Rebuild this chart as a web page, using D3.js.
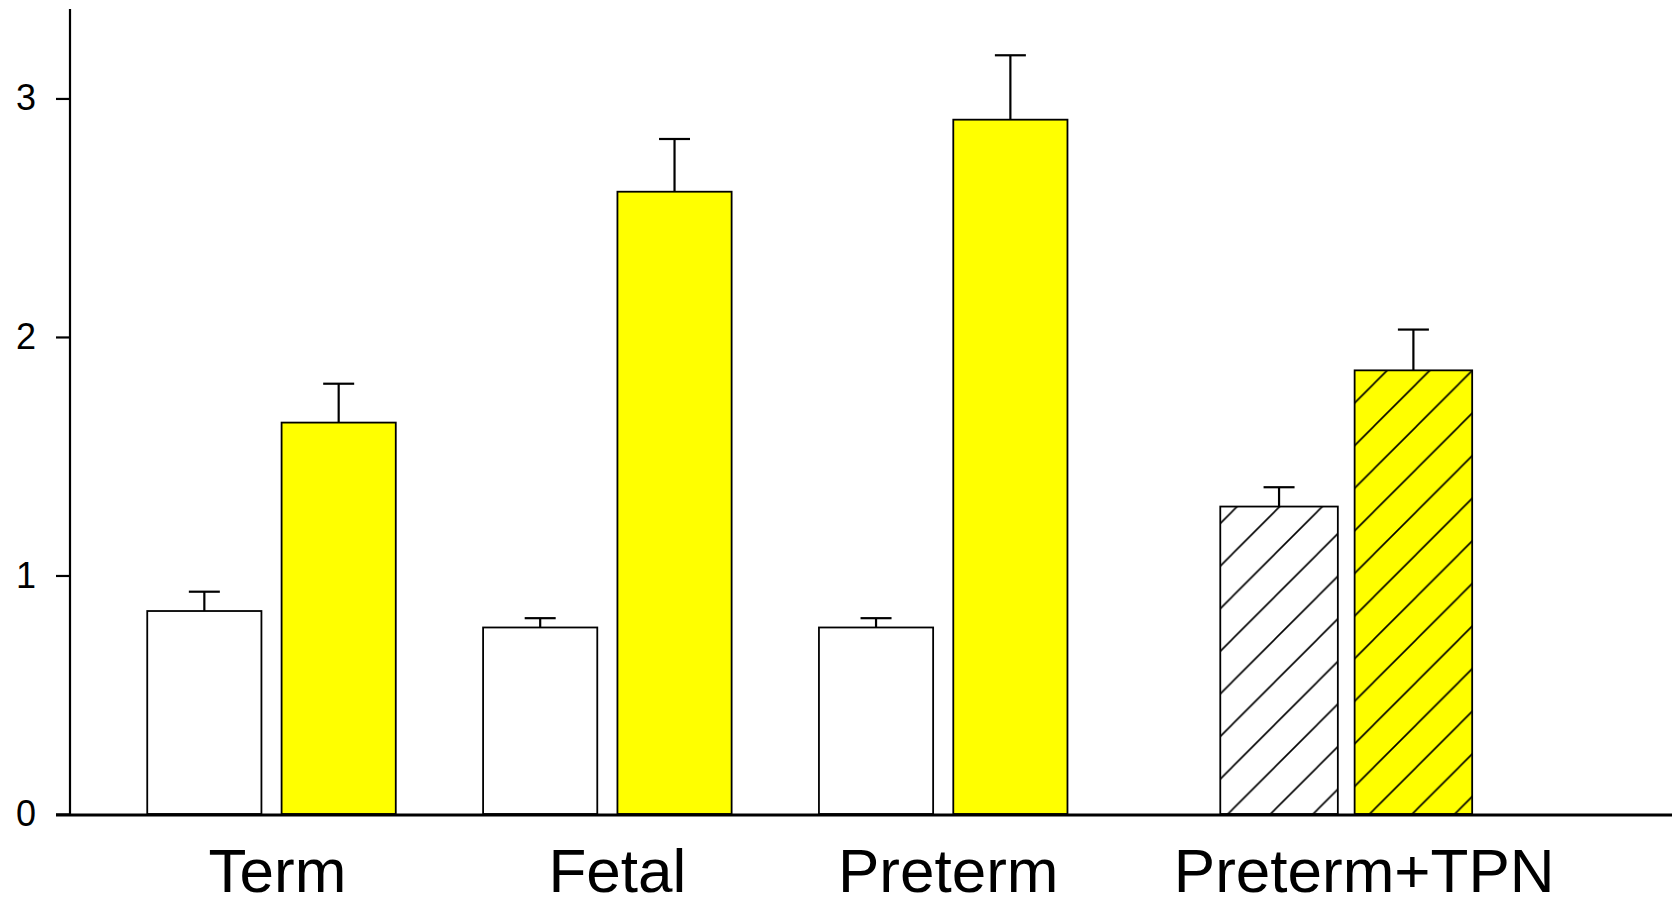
<!DOCTYPE html>
<html>
<head>
<meta charset="utf-8">
<script src="https://cdn.jsdelivr.net/npm/d3@7"></script>
<style>
  body { margin: 0; background: #fff; }
  svg { display: block; font-family: "Liberation Sans", Arial, sans-serif; }
</style>
</head>
<body>
<svg id="chart" width="1672" height="905"></svg>
<script>
// ── DATA ──────────────────────────────────────────────────────
const categories   = ["Term", "Fetal", "Preterm", "Preterm+TPN"];
const controlMean  = [0.851, 0.782, 0.782, 1.289];
const controlSE    = [0.081, 0.039, 0.039, 0.081];
const treatedMean  = [1.641, 2.609, 2.911, 1.860];
const treatedSE    = [0.163, 0.221, 0.270, 0.171];
const hatched      = [false, false, false, true];
const yTicks       = [0, 1, 2, 3];

// ── LAYOUT ────────────────────────────────────────────────────
const groupPos  = [1, 2, 3, 4.2];        // x position of each group (axis units)
const barWidth  = [0.34, 0.34, 0.34, 0.35];
const barOffset = 0.2;
const labelDx   = [6, 10, 5, 18];        // category labels sit a little right of centre

const svg = d3.select("#chart");

const x = d3.scaleLinear().domain([0.4, 5.17]).range([70, 1672]);
const y = d3.scaleLinear().domain([0, 3.375]).range([814, 9]);

// ── HATCH PATTERNS ────────────────────────────────────────────
const defs = svg.append("defs");
const tile = 42.6;
const makeHatch = (id, fill, offset) => {
  const p = defs.append("pattern")
    .attr("id", id)
    .attr("patternUnits", "userSpaceOnUse")
    .attr("x", offset)
    .attr("width", tile)
    .attr("height", tile);
  p.append("rect").attr("width", tile).attr("height", tile).attr("fill", fill);
  p.append("path")
    .attr("d", `M-2,2 l4,-4 M0,${tile} l${tile},${-tile} M${tile - 2},${tile + 2} l4,-4`)
    .attr("stroke", "#000")
    .attr("stroke-width", 1.6);
};
makeHatch("hatch-white", "#ffffff", 39.7);
makeHatch("hatch-yellow", "#ffff00", 11);

// ── BARS ──────────────────────────────────────────────────────
const bars = [];
categories.forEach((c, i) => {
  bars.push({ i, side: -1, mean: controlMean[i], se: controlSE[i], fill: hatched[i] ? "url(#hatch-white)" : "#ffffff" });
  bars.push({ i, side: 1, mean: treatedMean[i], se: treatedSE[i], fill: hatched[i] ? "url(#hatch-yellow)" : "#ffff00" });
});

const cx = d => x(groupPos[d.i] + d.side * barOffset);
const halfW = d => (x(barWidth[d.i]) - x(0)) / 2;

// error bars (drawn first so the bar outline covers the stem foot)
const err = svg.append("g").attr("stroke", "#000").attr("stroke-width", 2.2);
err.selectAll(".stem")
  .data(bars)
  .join("line")
    .attr("x1", cx).attr("x2", cx)
    .attr("y1", d => y(d.mean))
    .attr("y2", d => y(d.mean + d.se));
err.selectAll(".cap")
  .data(bars)
  .join("line")
    .attr("class", "cap")
    .attr("x1", d => cx(d) - 15.5)
    .attr("x2", d => cx(d) + 15.5)
    .attr("y1", d => y(d.mean + d.se))
    .attr("y2", d => y(d.mean + d.se));

svg.append("g")
  .selectAll("rect")
  .data(bars)
  .join("rect")
    .attr("x", d => cx(d) - halfW(d))
    .attr("width", d => 2 * halfW(d))
    .attr("y", d => y(d.mean))
    .attr("height", d => y(0) - y(d.mean))
    .attr("fill", d => d.fill)
    .attr("stroke", "#000")
    .attr("stroke-width", 1.8);

// ── AXES ──────────────────────────────────────────────────────
const yAxis = svg.append("g")
  .attr("transform", `translate(${x(0.4)},0)`)
  .call(d3.axisLeft(y).tickValues(yTicks).tickFormat(d3.format("d")).tickSize(14).tickPadding(20));
yAxis.select(".domain").attr("d", `M0,${y(3.375)}V${y(0)}`).attr("stroke-width", 2.2);
yAxis.selectAll(".tick line").attr("stroke-width", 2.2);
yAxis.selectAll(".tick text")
  .attr("font-size", 36)
  .attr("font-family", "'Liberation Sans', Arial, sans-serif")
  .attr("fill", "#000");

svg.append("line")
  .attr("x1", x(0.4) - 14).attr("x2", 1672)
  .attr("y1", y(0) + 1).attr("y2", y(0) + 1)
  .attr("stroke", "#000")
  .attr("stroke-width", 3.2);

// category labels
svg.append("g")
  .selectAll("text")
  .data(categories)
  .join("text")
    .attr("x", (d, i) => x(groupPos[i]) + labelDx[i])
    .attr("y", 892)
    .attr("text-anchor", "middle")
    .attr("font-size", 62)
    .attr("fill", "#000")
    .text(d => d);
</script>
</body>
</html>
